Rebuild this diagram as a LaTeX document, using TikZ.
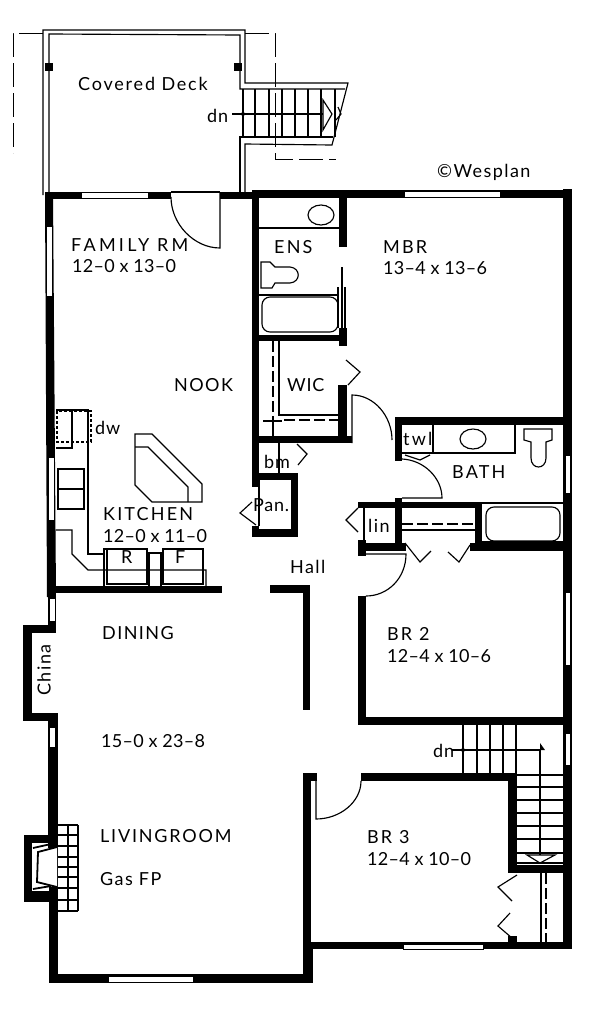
\documentclass[tikz,border=0pt]{standalone}
\usepackage{fontspec}
\setmainfont[LetterSpace=1.5]{Lato}
\newfontfamily\capsf[LetterSpace=12]{Lato}
\newfontfamily\midf[LetterSpace=10]{Lato}
\newfontfamily\lowf[LetterSpace=8]{Lato}
\newfontfamily\wicf[LetterSpace=4]{Lato}
\newfontfamily\famf[LetterSpace=18]{Lato}
\newcommand\wb[4]{\fill[black] (#1,#2) rectangle (#3,#4);}
\newcommand\win[4]{\draw[winbox] (#1,#2) rectangle (#3,#4);}
\tikzset{
 fine/.style={line width=1.15pt,black,line join=miter},
 dashline/.style={line width=1.15pt,black,dash pattern=on 11pt off 4pt},
 dashlong/.style={line width=0.95pt,black,dash pattern=on 24pt off 6pt},
 dotline/.style={line width=1.2pt,black,dash pattern=on 3pt off 2pt},
 winbox/.style={draw=black,fill=white,line width=0.9pt},
 lbl/.style={font=\fontsize{18}{20}\selectfont,inner sep=0pt,anchor=west,text=black},
}
\begin{document}
\begin{tikzpicture}[x=1pt,y=-1pt]
\useasboundingbox (0,0) rectangle (604,1015);
\fill[white] (0,0) rectangle (604,1015);
% deck
\draw[fine] (43,195) -- (43,30) -- (245,30) -- (245,83) -- (348,83) -- (332,145) -- (245,144) -- (245,192);
\draw[fine] (49,192) -- (49,34) -- (240,35) -- (240,89) -- (345,89);
\draw[fine] (240,192) -- (240,137) -- (333,137);
\draw[dashlong] (43,33) -- (13,33) -- (13,153);
\draw[dashlong] (245,33) -- (275,33) -- (275,159) -- (336,159);
\wb{45}{63}{53}{71}
\wb{234}{63}{242}{71}
\foreach \i in {243,255,269,282,295,308,321,335}{\draw[fine] (\i,89) -- (\i,137);}
\draw[fine] (232,114) -- (323,114);
\fill (243,114) circle (2);
\draw[fine,fill=white] (323,100) -- (332,114) -- (323,130) -- cycle;
\draw[fine] (338,107) -- (341,114) -- (336,120);
% exterior walls
\wb{45}{191.5}{171}{199}
\draw[fine] (171,192) -- (220,192);
\wb{220}{191.5}{252}{199}
\wb{252}{190}{572}{198}
\fill[black] (45,192) -- (53,192) -- (56,597) -- (47,597) -- cycle;
\wb{563}{189}{572}{949}
% left side
\wb{48}{595}{56}{630}
\wb{23}{625}{56}{633}
\wb{23}{625}{32}{721}
\wb{23}{713}{56}{721}
\wb{48}{713}{58}{848}
\wb{24}{835}{58}{843}
\wb{24}{835}{32}{902}
\wb{24}{891}{58}{902}
\wb{49}{887}{58}{983}
\wb{49}{974}{313}{983}
\wb{303}{942}{313}{983}
\wb{303}{942}{572}{949}
\wb{303}{773}{311}{949}
\wb{303}{773}{317}{781}
\wb{361}{773}{517}{781}
\wb{508}{773}{517}{873}
\wb{508}{865}{572}{873}
% kitchen / hall
\wb{47}{586}{222}{593}
\wb{270}{585}{310}{593}
\wb{303}{585}{310}{710}
% core
\wb{252}{192}{259}{487}
\wb{339}{192}{347}{247}
\wb{339}{328}{347}{346}
\wb{252}{335}{347}{341}
\wb{338}{385}{347}{443}
\wb{252}{436}{352}{443}
\wb{252}{473}{298}{480}
\wb{291}{473}{298}{537}
\wb{252}{529}{298}{537}
\wb{252}{526}{259}{537}
\draw[fine] (259,480) -- (259,526);
% bath & linen
\wb{395}{417}{572}{425}
\wb{395}{417}{402}{461}
\wb{358}{502}{482}{508}
\wb{395}{498}{402}{551}
\wb{475}{502}{482}{551}
\wb{358}{540}{366}{556}
\wb{358}{543}{406}{551}
\wb{470}{543}{572}{551}
\wb{358}{596}{366}{725}
\wb{358}{717}{572}{725}
% windows
\win{81}{192}{148}{198}
\win{404}{191}{500}{197}
\win{46}{226}{52}{296}
\win{48}{457}{54}{520}
\win{49}{598}{55}{621}
\win{49}{727}{55}{747}
\win{108}{976}{193}{982}
\win{403}{944}{483}{949}
\win{565}{455}{570}{493}
\win{565}{592}{570}{665}
\win{565}{733}{570}{765}
% doors
\draw[fine] (220,192) -- (220,248) .. controls (194,248) and (171,224) .. (171,197);
\draw[fine] (352,443) -- (352,395) .. controls (374,395) and (392,416) .. (392,440);
\draw[fine] (402,498) -- (442,498) .. controls (442,478) and (424,460) .. (402,459);
\draw[fine] (366,554) -- (406,554) .. controls (406,578) and (388,596) .. (366,596);
\draw[fine] (316,781) -- (316,819) .. controls (340,819) and (361,802) .. (361,781);
% bifold chevrons
\draw[fine] (346,360) -- (360,372) -- (348,385);
\draw[fine] (297,444) -- (307,454) -- (298,465);
\draw[fine] (252,502) -- (240,513) -- (256,525);
\draw[fine] (358,508) -- (346,520) -- (358,532);
\draw[fine] (405,543) -- (420,562) -- (431,551);
\draw[fine] (470,545) -- (459,562) -- (448,552);
\draw[fine] (517,875) -- (498,887) -- (512,901);
\draw[fine] (510,913) -- (498,926) -- (512,938);
\wb{508}{936}{517}{943}
\draw[fine] (405,455) -- (420,460) -- (430,455);
% ENS
\draw[fine] (259,228) -- (339,228);
\draw[fine] (321,215) ellipse (13 and 10);
\draw[fine] (261,262) -- (270,262) -- (275,267) -- (290,267) .. controls (301,268) and (301,282) .. (290,283) -- (275,283) -- (272,288) -- (261,288) -- cycle;
\draw[fine] (259,295) -- (339,295);
\draw[fine,rounded corners=8pt] (262,297) rectangle (338,332);
\draw[fine] (342,267) -- (342,328);
\draw[fine] (338,287) -- (338,328);
\draw[fine] (345,287) -- (345,328);
% WIC
\draw[fine] (279,341) -- (279,415) -- (339,415);
\draw[dashline] (273,341) -- (273,420);
\draw[dashline] (284,420) -- (339,420);
\draw[fine] (263,421) -- (282,421);
\draw[fine] (273,421) -- (273,436);
% bm
\draw[fine] (279,443) -- (279,473);
% bath fixtures
\draw[fine] (402,453) -- (515,453) -- (515,425);
\draw[fine] (433,425) -- (433,452);
\draw[fine] (473,439) ellipse (13 and 10);
\draw[fine] (524,429) -- (552,429) -- (552,440) -- (546,442) -- (546,458) .. controls (546,470) and (531,470) .. (531,458) -- (531,442) -- (524,440) -- cycle;
\draw[fine] (482,503) -- (564,503);
\draw[fine] (482,542) -- (564,542);
\draw[fine,rounded corners=8pt] (486,507) rectangle (560,541);
% linen
\draw[fine] (364,508) -- (364,543);
\draw[dashline] (402,524) -- (475,524);
\draw[fine] (402,530) -- (475,530);
% kitchen
\draw[fine] (56,410) -- (88,410) -- (88,554) -- (104,554);
\draw[dotline] (57,411) rectangle (91,442);
\draw[fine] (72,410) -- (72,448) -- (56,448);
\draw[fine] (58,469) rectangle (84,509);
\draw[fine] (58,489) -- (84,489);
\draw[fine] (56,530) -- (72,530) -- (72,554) -- (88,570) -- (206,570) -- (206,586);
\draw[fine] (104,586) -- (104,549) -- (147,549) -- (147,584) -- (107,584) -- (107,549);
\draw[fine] (163,549) -- (203,549) -- (203,584) -- (163,584) -- cycle;
\draw[fine] (149,586) -- (149,553) -- (161,553) -- (161,586);
\draw[fine] (135,434) -- (152,434) -- (202,484) -- (202,502) -- (152,502) -- (135,485) -- cycle;
\draw[fine] (135,447) -- (148,447) -- (188,487) -- (188,502);
% fireplace
\foreach \i in {57,68,78}{\draw[fine] (\i,825) -- (\i,911);}
\foreach \i in {825,835,846,857,867,877,888,900,911}{\draw[fine] (57,\i) -- (78,\i);}
\draw[line width=1.8pt,black,fill=white] (57,847) -- (38,852) -- (37,882) -- (57,887);
\draw[line width=1.8pt] (33,848) -- (51,844);
\draw[line width=1.8pt] (33,889) -- (51,886);
% lower stairs
\foreach \i in {463,477,490,503,516}{\draw[fine] (\i,725) -- (\i,773);}
\foreach \i in {775,787,800,813,826,839,853,863}{\draw[fine] (517,\i) -- (563,\i);}
\draw[fine] (452,750) -- (540,750) -- (540,855);
\fill (463,750) circle (2);
\fill (540,743) -- (545,750) -- (540,750) -- cycle;
\draw[fine,fill=white] (527,855) -- (555,855) -- (540,863) -- cycle;
% BR3 closet
\draw[fine] (541,873) -- (541,942);
\draw[dashline] (546,873) -- (546,942);
% labels
\node[lbl] (deck) at (78,84) {\midf Covered Deck};
\node[lbl] (dn1) at (207,116) {\wicf dn};
\node[lbl] (wes) at (437,172) {\lowf ©Wesplan};
\node[lbl] (fam) at (71,245) {\famf FAMILY RM};
\node[lbl] (famd) at (72,266) {12--0 x 13--0};
\node[lbl] (ens) at (274,247) {\capsf ENS};
\node[lbl] (mbr) at (383,247) {\capsf MBR};
\node[lbl] (mbrd) at (383,268) {13--4 x 13--6};
\node[lbl] (nook) at (174,385) {\lowf NOOK};
\node[lbl] (wic) at (287,385) {\wicf WIC};
\node[lbl] (dw) at (95,428) {\wicf dw};
\node[lbl] (twl) at (403,439) {\capsf twl};
\node[lbl] (bm) at (264,462) {\wicf bm};
\node[lbl] (bath) at (452,472) {\capsf BATH};
\node[lbl] (pan) at (253,505) {\wicf Pan.};
\node[lbl] (lin) at (368,526) {\lowf lin};
\node[lbl] (kit) at (103,514) {\capsf KITCHEN};
\node[lbl] (kitd) at (103,536) {12--0 x 11--0};
\node[lbl] (r) at (121,557) {R};
\node[lbl] (f) at (175,557) {F};
\node[lbl] (hall) at (290,567) {\lowf Hall};
\node[lbl] (din) at (102,633) {\lowf DINING};
\node[lbl,rotate=90,anchor=center] (china) at (44,670) {\lowf China};
\node[lbl] (br2) at (387,634) {\capsf BR 2};
\node[lbl] (br2d) at (387,656) {12--4 x 10--6};
\node[lbl] (dimd) at (101,741) {15--0 x 23--8};
\node[lbl] (dn2) at (433,751) {\wicf dn};
\node[lbl] (liv) at (100,836) {\midf LIVINGROOM};
\node[lbl] (gas) at (100,879) {\lowf Gas FP};
\node[lbl] (br3) at (367,837) {\capsf BR 3};
\node[lbl] (br3d) at (367,859) {12--4 x 10--0};
\end{tikzpicture}
\end{document}
